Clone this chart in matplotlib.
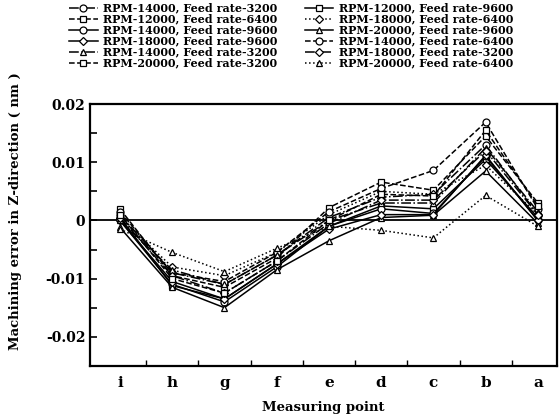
import numpy as np
import matplotlib.pyplot as plt
from matplotlib.ticker import MultipleLocator

points = ['i', 'h', 'g', 'f', 'e', 'd', 'c', 'b', 'a']

labels = [
    'RPM-14000, Feed rate-3200', 'RPM-12000, Feed rate-9600',
    'RPM-12000, Feed rate-6400', 'RPM-18000, Feed rate-6400',
    'RPM-14000, Feed rate-9600', 'RPM-20000, Feed rate-9600',
    'RPM-18000, Feed rate-9600', 'RPM-14000, Feed rate-6400',
    'RPM-14000, Feed rate-3200', 'RPM-18000, Feed rate-3200',
    'RPM-20000, Feed rate-3200', 'RPM-20000, Feed rate-6400',
]

err = [
    [0.0010, -0.0090, -0.0110, -0.0060, 0.0005, 0.0040, 0.0045, 0.0130, 0.0010],
    [0.0005, -0.0112, -0.0135, -0.0075, -0.0010, 0.0025, 0.0020, 0.0105, 0.0005],
    [0.0020, -0.0095, -0.0115, -0.0065, 0.0022, 0.0066, 0.0052, 0.0145, 0.0030],
    [0.0005, -0.0080, -0.0095, -0.0055, 0.0010, 0.0050, 0.0045, 0.0095, 0.0010],
    [0.0000, -0.0110, -0.0140, -0.0080, -0.0010, 0.0020, 0.0012, 0.0110, 0.0000],
    [-0.0012, -0.0115, -0.0150, -0.0085, -0.0035, 0.0005, 0.0009, 0.0085, -0.0005],
    [0.0000, -0.0105, -0.0135, -0.0075, -0.0015, 0.0010, 0.0010, 0.0112, 0.0000],
    [0.0015, -0.0090, -0.0105, -0.0055, 0.0015, 0.0055, 0.0086, 0.0169, 0.0020],
    [0.0000, -0.0085, -0.0110, -0.0060, 0.0000, 0.0030, 0.0030, 0.0125, 0.0015],
    [0.0005, -0.0095, -0.0125, -0.0070, -0.0005, 0.0035, 0.0035, 0.0120, 0.0010],
    [0.0010, -0.0100, -0.0125, -0.0070, 0.0000, 0.0045, 0.0042, 0.0155, 0.0025],
    [-0.0015, -0.0055, -0.0088, -0.0048, -0.0010, -0.0017, -0.0030, 0.0043, -0.0010],
]

styles = ['-.', '-', '--', ':', '-', '-', '-', '--', '-.', '-.', '--', ':']
markers = ['o', 's', 's', 'D', 'o', '^', 'D', 'o', '^', 'D', 's', '^']

plt.rcParams['font.family'] = 'DejaVu Serif'
plt.rcParams['font.weight'] = 'bold'

fig = plt.figure(figsize=(5.6, 4.2), dpi=100)
ax = fig.add_axes([0.161, 0.129, 0.834, 0.623])

x = np.arange(len(points))
handles = []
for vals, lab, ls, mk in zip(err, labels, styles, markers):
    h, = ax.plot(x, vals, linestyle=ls, marker=mk, color='black', lw=1.1,
                 markersize=5 if mk != 'D' else 4, markerfacecolor='white',
                 markeredgewidth=0.9, label=lab)
    handles.append(h)

ax.axhline(0, color='black', lw=1.3, zorder=0)

ax.set_xlim(-0.57, 8.37)
ax.set_ylim(-0.025, 0.02)
ax.set_xticks(x)
ax.set_xticklabels(points, fontsize=11, fontweight='bold')
ax.set_xticks(x[:-1] + 0.5, minor=True)
ax.tick_params(axis='x', which='major', length=0, pad=7)
ax.tick_params(axis='x', which='minor', direction='in', length=4, width=1)

ax.set_yticks([-0.02, -0.01, 0, 0.01, 0.02])
ax.set_yticklabels(['-0.02', '-0.01', '0', '0.01', '0.02'], fontsize=10,
                   fontweight='bold')
ax.yaxis.set_minor_locator(MultipleLocator(0.005))
ax.tick_params(axis='y', which='both', direction='in', length=5, width=1.2)

for s in ax.spines.values():
    s.set_linewidth(1.6)

ax.set_xlabel('Measuring point', fontsize=9.5, fontweight='bold', labelpad=8)
ax.set_ylabel('Machining error in Z-direction ( nm )', fontsize=9.5,
              fontweight='bold')
ax.yaxis.set_label_coords(-0.145, 0.59)

# legend is filled row by row in the reference
order = list(range(0, 12, 2)) + list(range(1, 12, 2))
fig.legend([handles[i] for i in order], [labels[i] for i in order],
           loc='upper center', bbox_to_anchor=(0.52, 1.012), ncol=2,
           frameon=False, handlelength=2.6, handletextpad=0.5,
           labelspacing=0.0, columnspacing=2.4, borderpad=0.2,
           prop={'weight': 'bold', 'size': 8})

fig.savefig('out.png', dpi=100)
